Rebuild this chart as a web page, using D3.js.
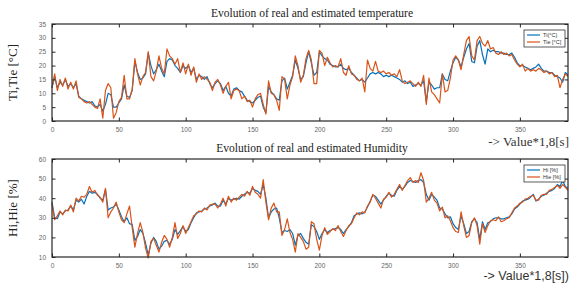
<!DOCTYPE html>
<html>
<head>
<meta charset="utf-8">
<script src="https://cdn.jsdelivr.net/npm/d3@7"></script>
<style>
  body { margin: 0; background: #fff; }
  svg { display: block; }
  .tick text { fill: #666; font-family: "Liberation Sans", Arial, sans-serif; font-size: 6.5px; }
  .tick line { stroke: #262626; }
  .domain { stroke: none; }
</style>
</head>
<body>
<div id="chart"></div>
<script>
// sample index, one value every 2 steps
var step = 2;

// temperature, real
var ti = [12,16,12,14,13,15,12.5,13.5,12,13.5,9,8,7.5,7,6.5,7,5.5,5,6,3.5,
  6,10,9.5,5,5,6.5,8,13,9,8.5,11,21.5,17.5,15,15.5,17,24.5,20,17,18.5,
  20.5,18,16,21.5,22.5,22,20,19,17.5,20,19,20,17.5,19,15,16.5,16,15,16,13.5,
  12,13.5,14.5,13.5,11,12.5,10,9,11.5,12,11,10.5,9,7.5,7,6.5,7.5,8.5,9,5,
  3,12.5,10.5,9.5,8,7.5,14.5,15.5,11.5,14,16.5,22,19,15,16,21,25,21,16.5,17.5,
  25,23.5,22.5,22,20.5,20,19.5,19.5,20.5,19,18.5,19,17.5,16.5,15.5,14.5,15,14,15.5,17,
  17.5,17,17.5,17,16,16.5,16,16.5,16,15.5,15,14,14.5,13.5,14,12.5,13,13.5,13,14.5,
  7,14,13,11.5,12,12,17,15,14.5,18,21,23,22,19.5,23,26,28,21.5,21,27,
  29,24,20.5,26,25,25.5,25,25,24.5,24.5,24,24,24.5,23,21,20,20,19.5,19,18.5,
  19,19.5,20.5,19,18,18,17.5,17.5,16.5,16,15.5,14,17.5,16.5];

// temperature, estimated
var tie = [12,17,11,15,12.5,15.5,11.5,14,11.5,14.5,8.5,8,7,6.5,7,6,5,4.5,8,1,
  11,13.5,12,1,3,7,8.5,16.5,8,8,11.5,22.5,17,13,16,17.5,25,16,14.5,18,
  23.5,19,17,26,23.5,22.5,20.5,22.5,17.5,21,17,20.5,16.5,19.5,14,17,15,16,15,14,
  11,14,15,13,10,12.5,14,8,11,11.5,11,8,9,7,7.5,5,8,9.5,10,6,
  2.5,14.5,10,9.5,7.5,3.8,16,15,8,13,16,23.5,20,14,16.5,22.5,25.5,22,13.5,13.5,
  25.5,24.5,20,23,21,19.5,20,19.5,22.5,17.5,16.5,20,17,16.5,15,14.5,15.5,10.5,22,19,
  18,21.5,18,17.5,18,17,17.5,16.5,17,16,18.5,14.5,13.5,14,14.5,13.5,12.5,14,12.5,16.5,
  6,15.5,10.5,9.5,8,6.5,17,10.5,11,15.5,22,23.5,22,18.5,24,29,30.5,23.5,22,29,
  30.5,28,27,29,26,26.5,24.5,24,25,24,24.5,23.5,24,22,20.5,19.5,20.5,18,19,18,
  18.5,18,19,18.5,17.5,18,17,17.5,16,16.5,12,15,17,16];

// humidity, real
var hi = [38,30,29.5,33,32,33.5,34,36,34,39,38,39.5,37,41,43.5,42.5,43,42,40,39,
  44.5,34,35,35.5,37,34,30.5,28,30,27,26.5,18.5,20.5,24,22,17,11,17,20,18,
  14,15.5,18,18.5,16.5,19,24,21.5,23.5,25.5,23,24,27.5,30,32.5,33,33.5,34.5,35,36,
  36.5,37.5,36,36,39,37,40,39,39.5,40,39.5,41,42,43,42.5,45,44,43.5,42,47,
  40,30,33,34.5,35,30,22.5,23.5,23,24,22,16,21,22,19.5,17.5,16.5,26.5,25.5,23,
  19,22,24,22.5,23.5,24,24.5,25,24,22,24,25.5,27.5,31,32,32.5,32,33,35.5,38.5,
  41.5,41,39,37,39,41,42.5,41.5,41,44,46,44.5,46,48,49,48.5,48,49,49.5,48,
  42,39,42,40.5,39,35,34.5,32,30,30.5,27,25,24,31,27,22,23,28,29.5,27.5,
  19,28,24,27.5,28,29.5,30,30,29.5,29.5,30,30.5,32,34.5,35.5,37,38.5,39,39.5,40.5,
  42,38.5,39.5,41,41.5,42.5,43.5,44,45,47,46,49,46,45];

// humidity, estimated
var hie = [37,29,31,33.5,31.5,34,33.5,36.5,33,40,38.5,41,40.5,42,46,43,44,41.5,40.5,38,
  45,30,33,35,38,33,29,27.5,32,36,25,15,22,27.5,22.5,14.5,9.5,18,19.5,16,
  12.5,17.5,21,19,15,20,27.5,19.5,22,26,22,25,28,31,32,33.5,33,35,34,36.5,
  37,37,35,37,40,36,41,38,40,39,40.5,42,41,43.5,41.5,46,43,42,40,49.5,
  38,29,35,37.5,33,33,21,24,29.5,22.5,19,12.5,22,20,18,14,15,28,27,19,
  13.5,21,25,21.5,23,24.5,23.5,26,23,20.5,23.5,26,27,30,32.5,31.5,33,32.5,36,38,
  42,40,37.5,35,39.5,40.5,43,40.5,42,44.5,47,44,46.5,49,50.5,48,49,48,53,49,
  38,40,43,39,37.5,33.5,35.5,30,31,28.5,25,23,22.5,33,26,20,21,27.5,30,26,
  16.5,27,22.5,26,28.5,29,28.5,30.5,28,28.5,29.5,30,32.5,35,36,37.5,38,39.5,40,41,
  41.5,39,39,41.5,42,42,44,44.5,45.5,46.5,45,47,45.5,44];

var xTicks = [0, 50, 100, 150, 200, 250, 300, 350];
var tTicks = [0, 5, 10, 15, 20, 25, 30, 35];
var hTicks = [10, 20, 30, 40, 50, 60];

var W = 569, H = 286;
var blue = "#0072bd", orange = "#d95319";

var svg = d3.select("#chart").append("svg")
  .attr("width", W)
  .attr("height", H);

var x = d3.scaleLinear().domain([0, 386]).range([52, 568]);

function panel(top, bottom, yDomain, yTicks, real, est, names, title, yLabel) {
  var y = d3.scaleLinear().domain(yDomain).range([bottom, top]);

  var g = svg.append("g");

  var line = d3.line()
    .x(function(d, i) { return x(i * step); })
    .y(function(d) { return y(d); });

  g.append("path").datum(real)
    .attr("fill", "none").attr("stroke", blue).attr("stroke-width", 1.2)
    .attr("stroke-linejoin", "round")
    .attr("d", line);
  g.append("path").datum(est)
    .attr("fill", "none").attr("stroke", orange).attr("stroke-width", 1.2)
    .attr("stroke-linejoin", "round")
    .attr("d", line);

  // axes, ticks pointing inward like matlab
  g.append("g").attr("transform", "translate(0," + bottom + ")")
    .call(d3.axisBottom(x).tickValues(xTicks).tickSizeInner(-3.5).tickSizeOuter(0).tickPadding(6));
  g.append("g").attr("transform", "translate(0," + top + ")")
    .call(d3.axisTop(x).tickValues(xTicks).tickSizeInner(-3.5).tickSizeOuter(0).tickFormat(""));
  g.append("g").attr("transform", "translate(52,0)")
    .call(d3.axisLeft(y).tickValues(yTicks).tickSizeInner(-3.5).tickSizeOuter(0).tickPadding(6));
  g.append("g").attr("transform", "translate(568,0)")
    .call(d3.axisRight(y).tickValues(yTicks).tickSizeInner(-3.5).tickSizeOuter(0).tickFormat(""));

  g.append("rect")
    .attr("x", 52).attr("y", top)
    .attr("width", 568 - 52).attr("height", bottom - top)
    .attr("fill", "none").attr("stroke", "#262626").attr("stroke-width", 1.2);

  g.append("text")
    .attr("x", 312).attr("y", top - 7)
    .attr("text-anchor", "middle")
    .attr("font-family", "'Liberation Serif', 'Times New Roman', serif")
    .attr("font-size", 11.5).attr("fill", "#222")
    .text(title);

  g.append("text")
    .attr("transform", "translate(17," + ((top + bottom) / 2) + ") rotate(-90)")
    .attr("text-anchor", "middle")
    .attr("font-family", "'Liberation Serif', 'Times New Roman', serif")
    .attr("font-size", 13).attr("fill", "#222")
    .text(yLabel);

  // legend
  var lg = g.append("g").attr("transform", "translate(524," + (top + 6) + ")");
  lg.append("rect").attr("width", 41).attr("height", 17)
    .attr("fill", "#fff").attr("stroke", "#333").attr("stroke-width", 0.8);
  [blue, orange].forEach(function(c, i) {
    lg.append("line")
      .attr("x1", 3).attr("x2", 16)
      .attr("y1", 5 + i * 7).attr("y2", 5 + i * 7)
      .attr("stroke", c).attr("stroke-width", 1.2);
    lg.append("text")
      .attr("x", 19).attr("y", 5 + i * 7).attr("dy", "0.35em")
      .attr("font-family", "'Liberation Sans', Arial, sans-serif")
      .attr("font-size", 5.5).attr("fill", "#333")
      .text(names[i]);
  });
}

panel(24, 121, [0, 35], tTicks, ti, tie, ["Ti(°C)", "Tie [°C]"],
  "Evolution of real and estimated temperature", "Ti,Tie [°C]");
panel(159, 257, [10, 60], hTicks, hi, hie, ["Hi [%]", "Hie [%]"],
  "Evolution of real and estimated Humidity", "Hi,Hie [%]");

svg.append("text")
  .attr("x", 569).attr("y", 146)
  .attr("text-anchor", "end")
  .attr("font-family", "'Liberation Serif', 'Times New Roman', serif")
  .attr("font-size", 13).attr("fill", "#333")
  .text("-> Value*1,8[s]");

svg.append("text")
  .attr("x", 569).attr("y", 280)
  .attr("text-anchor", "end")
  .attr("font-family", "'Liberation Sans', Arial, sans-serif")
  .attr("font-size", 12.5).attr("fill", "#333")
  .text("-> Value*1,8[s])");
</script>
</body>
</html>
